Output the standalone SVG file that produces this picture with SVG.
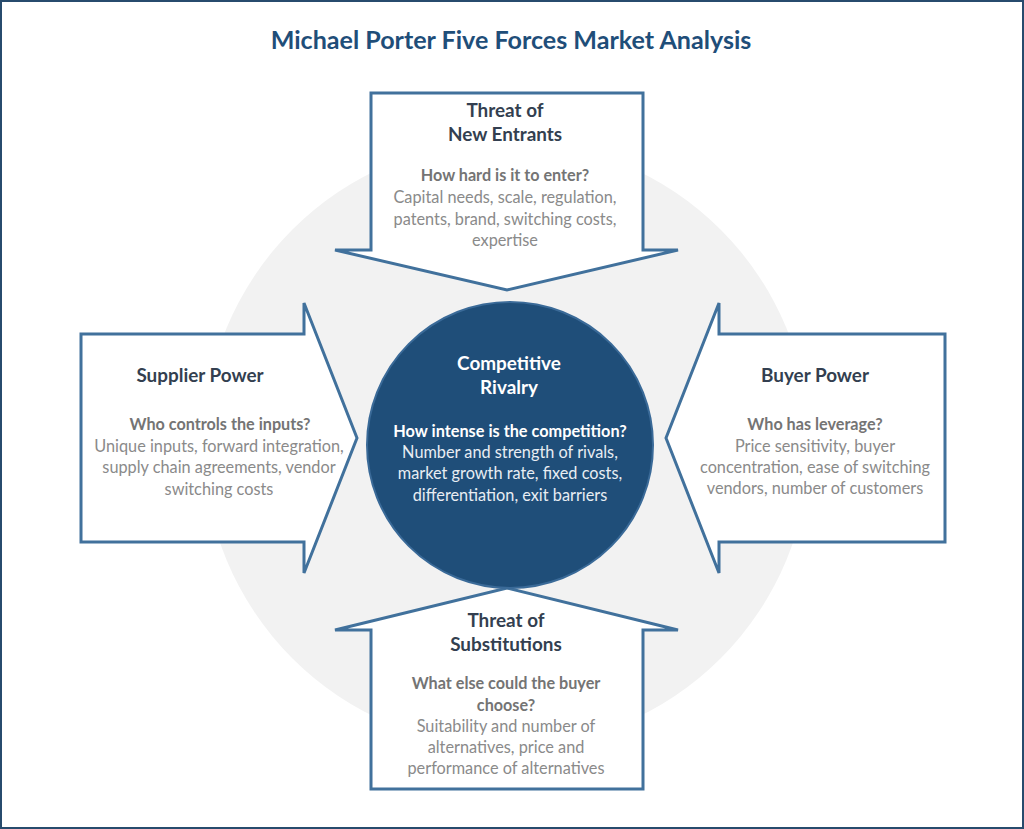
<svg xmlns="http://www.w3.org/2000/svg" width="1024" height="829" viewBox="0 0 1024 829">
<style>
.arrow{fill:#ffffff;stroke:#41719c;stroke-width:3;stroke-linejoin:miter}
text{font-family:Lato,"Liberation Sans",sans-serif;text-anchor:middle}
.title{font-size:25.1px;font-weight:bold;fill:#1f4e79}
.h{font-size:18.9px;font-weight:bold;fill:#333f50}
.q{font-size:16.2px;font-weight:bold;fill:#747474}
.b{font-size:16.3px;fill:#8a8a8a}
.hw{font-size:18.9px;font-weight:bold;fill:#ffffff}
.qw{font-size:16.3px;font-weight:bold;fill:#ffffff}
.bw{font-size:16.3px;fill:#e8edf3}
</style>
<rect x="1" y="1" width="1022" height="827" fill="#ffffff" stroke="#274b6d" stroke-width="2"/>
<text class="title" x="511" y="49">Michael Porter Five Forces Market Analysis</text>
<circle id="background" cx="506.5" cy="444" r="303" fill="#f2f2f2"/>
<g id="connectors"/>
<g id="new-entrants">
<path class="arrow" d="M371,93 H643 V250 H678 L507,290 L335,250 H371 Z"/>
<text class="h" x="505" y="117">Threat of</text>
<text class="h" x="505" y="141">New Entrants</text>
<text class="q" x="505" y="181">How hard is it to enter?</text>
<text class="b" x="505" y="203">Capital needs, scale, regulation,</text>
<text class="b" x="505" y="225">patents, brand, switching costs,</text>
<text class="b" x="505" y="246">expertise</text>
</g>
<g id="supplier-power">
<path class="arrow" d="M81,334 H304 V303 L357,438 L304,573 V542 H81 Z"/>
<text class="h" x="200" y="382">Supplier Power</text>
<text class="q" x="220" y="430">Who controls the inputs?</text>
<text class="b" x="219" y="452">Unique inputs, forward integration,</text>
<text class="b" x="219" y="473">supply chain agreements, vendor</text>
<text class="b" x="219" y="495">switching costs</text>
</g>
<g id="buyer-power">
<path class="arrow" d="M945,334 H719 V303 L666,438 L719,573 V542 H945 Z"/>
<text class="h" x="815" y="382">Buyer Power</text>
<text class="q" x="815" y="430">Who has leverage?</text>
<text class="b" x="815" y="452">Price sensitivity, buyer</text>
<text class="b" x="815" y="473">concentration, ease of switching</text>
<text class="b" x="815" y="494">vendors, number of customers</text>
</g>
<g id="substitutions">
<path class="arrow" d="M371,789 H643 V630 H678 L507,588 L335,630 H371 Z"/>
<text class="h" x="506" y="627">Threat of</text>
<text class="h" x="506" y="651">Substitutions</text>
<text class="q" x="506" y="689">What else could the buyer</text>
<text class="q" x="506" y="711">choose?</text>
<text class="b" x="506" y="732">Suitability and number of</text>
<text class="b" x="506" y="753">alternatives, price and</text>
<text class="b" x="506" y="774">performance of alternatives</text>
</g>
<g id="competitive-rivalry">
<circle cx="510" cy="445" r="143" fill="#1f4e79" stroke="#3a6a98" stroke-width="2"/>
<text class="hw" x="509" y="370">Competitive</text>
<text class="hw" x="509" y="394">Rivalry</text>
<text class="qw" x="510" y="437">How intense is the competition?</text>
<text class="bw" x="510" y="458">Number and strength of rivals,</text>
<text class="bw" x="510" y="479">market growth rate, fixed costs,</text>
<text class="bw" x="510" y="501">differentiation, exit barriers</text>
</g>
</svg>
